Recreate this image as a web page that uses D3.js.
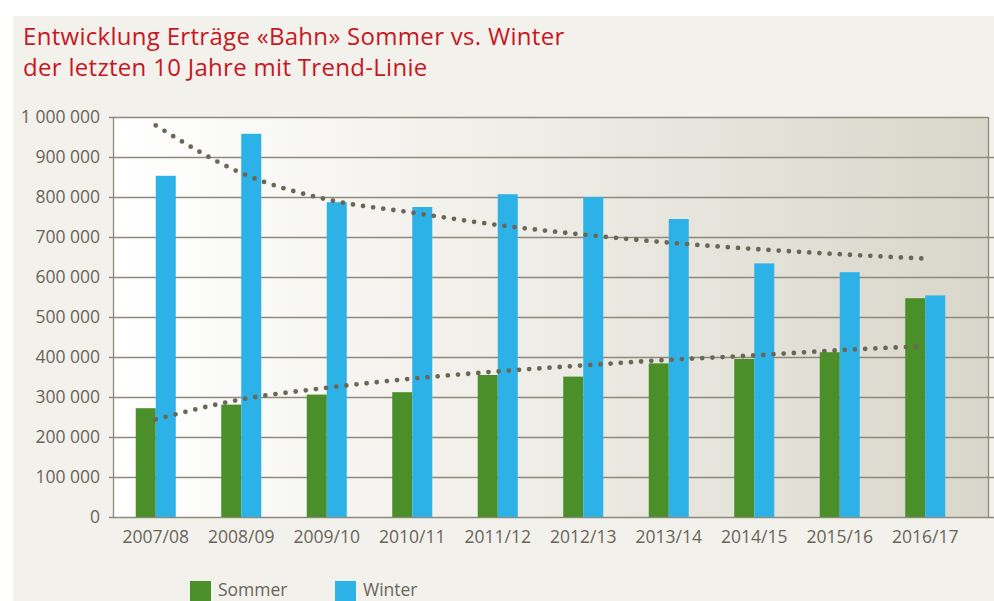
<!DOCTYPE html>
<html>
<head>
<meta charset="utf-8">
<script src="https://cdn.jsdelivr.net/npm/d3@7"></script>
<style>
    html, body { margin: 0; padding: 0; background: #ffffff; }
    svg { display: block; }
</style>
</head>
<body>
<div id="chart"></div>
<script>
(function(d3) {
    "use strict";

    // categories + series
    var seasons = ["2007/08", "2008/09", "2009/10", "2010/11", "2011/12",
        "2012/13", "2013/14", "2014/15", "2015/16", "2016/17"];
    var sommer = [272000, 281000, 306000, 312000, 355000, 351000, 384000, 395000, 412000, 547000];
    var winter = [853000, 958000, 787000, 775000, 807000, 800000, 745000, 634000, 612000, 554000];
    // trend lines, value at each season
    var sommerTrend = [244000, 294000, 323000, 346000, 364000, 379000, 393000, 404000, 417000, 427000];
    var winterTrend = [979000, 860000, 794000, 761000, 730000, 706000, 686000, 670000, 657000, 646000];
    var yTicks = [0, 100000, 200000, 300000, 400000, 500000, 600000, 700000, 800000, 900000, 1000000];
    var seriesNames = ["Sommer", "Winter"];
    var titleLines = ["Entwicklung Erträge «Bahn» Sommer vs. Winter", "der letzten 10 Jahre mit Trend-Linie"];

    var width = 994, height = 601;
    var colors = { Sommer: "#4a8f29", Winter: "#2db2e8" };
    var textColor = "#68655a";
    var font = "'Open Sans', sans-serif";

    var plot = { left: 113, right: 988, top: 117, bottom: 517, bandsRight: 968 };

    var svg = d3.select("#chart")
        .append("svg")
        .attr("width", width)
        .attr("height", height);

    var defs = svg.append("defs");
    var grad = defs.append("linearGradient")
        .attr("id", "plotBg")
        .attr("x1", "0%").attr("x2", "100%")
        .attr("y1", "0%").attr("y2", "0%");
    grad.append("stop").attr("offset", "0%").attr("stop-color", "#ffffff");
    grad.append("stop").attr("offset", "45%").attr("stop-color", "#efeee8");
    grad.append("stop").attr("offset", "100%").attr("stop-color", "#d9d7cb");

    // page background (white strip top/left like the scan)
    svg.append("rect")
        .attr("x", 13).attr("y", 16)
        .attr("width", width - 13).attr("height", height - 16)
        .attr("fill", "#f3f1ec");

    // title
    svg.append("g")
        .selectAll("text")
        .data(titleLines)
        .enter()
        .append("text")
        .attr("x", 23)
        .attr("y", function(d, i) { return 45 + i * 31; })
        .attr("fill", "#c8171f")
        .style("font-family", font)
        .style("font-size", "24px")
        .style("letter-spacing", "0.3px")
        .text(function(d) { return d; });

    var x = d3.scaleBand()
        .domain(seasons)
        .range([plot.left, plot.bandsRight])
        .paddingInner(0.532)
        .paddingOuter(0.266);

    var xSub = d3.scaleBand()
        .domain(seriesNames)
        .range([0, x.bandwidth()]);

    var y = d3.scaleLinear()
        .domain([0, 1000000])
        .range([plot.bottom, plot.top]);

    // plot area
    svg.append("rect")
        .attr("x", plot.left).attr("y", plot.top)
        .attr("width", plot.right - plot.left)
        .attr("height", plot.bottom - plot.top)
        .attr("fill", "url(#plotBg)");

    // gridlines
    svg.append("g")
        .selectAll("line")
        .data(yTicks)
        .enter()
        .append("line")
        .attr("x1", plot.left - 4)
        .attr("x2", function(d) { return d === 1000000 ? plot.right : width; })
        .attr("y1", function(d) { return Math.round(y(d)) + 0.5; })
        .attr("y2", function(d) { return Math.round(y(d)) + 0.5; })
        .attr("stroke", "#8e8a7b")
        .attr("stroke-width", 1.3);

    // y labels
    var fmt = d3.formatLocale({ decimal: ",", thousands: " ", grouping: [3], currency: ["", ""] }).format(",d");
    var yAxis = d3.axisLeft(y)
        .tickValues(yTicks)
        .tickFormat(fmt)
        .tickSize(0)
        .tickPadding(13);
    var yAxisG = svg.append("g")
        .attr("transform", "translate(" + plot.left + ",0)")
        .call(yAxis);
    yAxisG.select(".domain").remove();
    yAxisG.selectAll("text")
        .attr("fill", textColor)
        .style("font-family", font)
        .style("font-size", "17.5px");

    // borders
    svg.append("line")
        .attr("x1", plot.left + 0.5).attr("x2", plot.left + 0.5)
        .attr("y1", plot.top).attr("y2", plot.bottom + 1)
        .attr("stroke", "#8e8a7b").attr("stroke-width", 1.3);
    svg.append("line")
        .attr("x1", plot.right + 0.5).attr("x2", plot.right + 0.5)
        .attr("y1", plot.top).attr("y2", plot.bottom + 1)
        .attr("stroke", "#8e8a7b").attr("stroke-width", 1.3);

    // bars
    var groups = svg.append("g")
        .selectAll("g")
        .data(seasons)
        .enter()
        .append("g")
        .attr("transform", function(d) { return "translate(" + x(d) + ",0)"; });

    groups.selectAll("rect")
        .data(function(d, i) {
            return [
                { key: "Sommer", value: sommer[i] },
                { key: "Winter", value: winter[i] }
            ];
        })
        .enter()
        .append("rect")
        .attr("x", function(d) { return xSub(d.key); })
        .attr("width", xSub.bandwidth())
        .attr("y", function(d) { return y(d.value); })
        .attr("height", function(d) { return y(0) - y(d.value); })
        .attr("fill", function(d) { return colors[d.key]; });

    // x labels
    var xAxis = d3.axisBottom(x)
        .tickSize(0)
        .tickPadding(14);
    var xAxisG = svg.append("g")
        .attr("transform", "translate(0," + plot.bottom + ")")
        .call(xAxis);
    xAxisG.select(".domain").remove();
    xAxisG.selectAll("text")
        .attr("fill", textColor)
        .style("font-family", font)
        .style("font-size", "17.5px");

    // trend lines (dotted)
    var trendLine = d3.line()
        .x(function(d, i) { return x(seasons[i]) + x.bandwidth() / 2; })
        .y(function(d) { return y(d); })
        .curve(d3.curveMonotoneX);

    svg.append("g")
        .selectAll("path")
        .data([winterTrend, sommerTrend])
        .enter()
        .append("path")
        .attr("d", trendLine)
        .attr("fill", "none")
        .attr("stroke", "#6b6757")
        .attr("stroke-width", 4.8)
        .attr("stroke-linecap", "round")
        .attr("stroke-dasharray", "0 10.2");

    // legend
    var legend = svg.append("g")
        .selectAll("g")
        .data(seriesNames)
        .enter()
        .append("g")
        .attr("transform", function(d, i) { return "translate(" + (190 + i * 145) + ",581)"; });
    legend.append("rect")
        .attr("width", 21)
        .attr("height", 21)
        .attr("fill", function(d) { return colors[d]; });
    legend.append("text")
        .attr("x", 28)
        .attr("y", 15)
        .attr("fill", textColor)
        .style("font-family", font)
        .style("font-size", "17.5px")
        .text(function(d) { return d; });
})(window.d3);
</script>
</body>
</html>
